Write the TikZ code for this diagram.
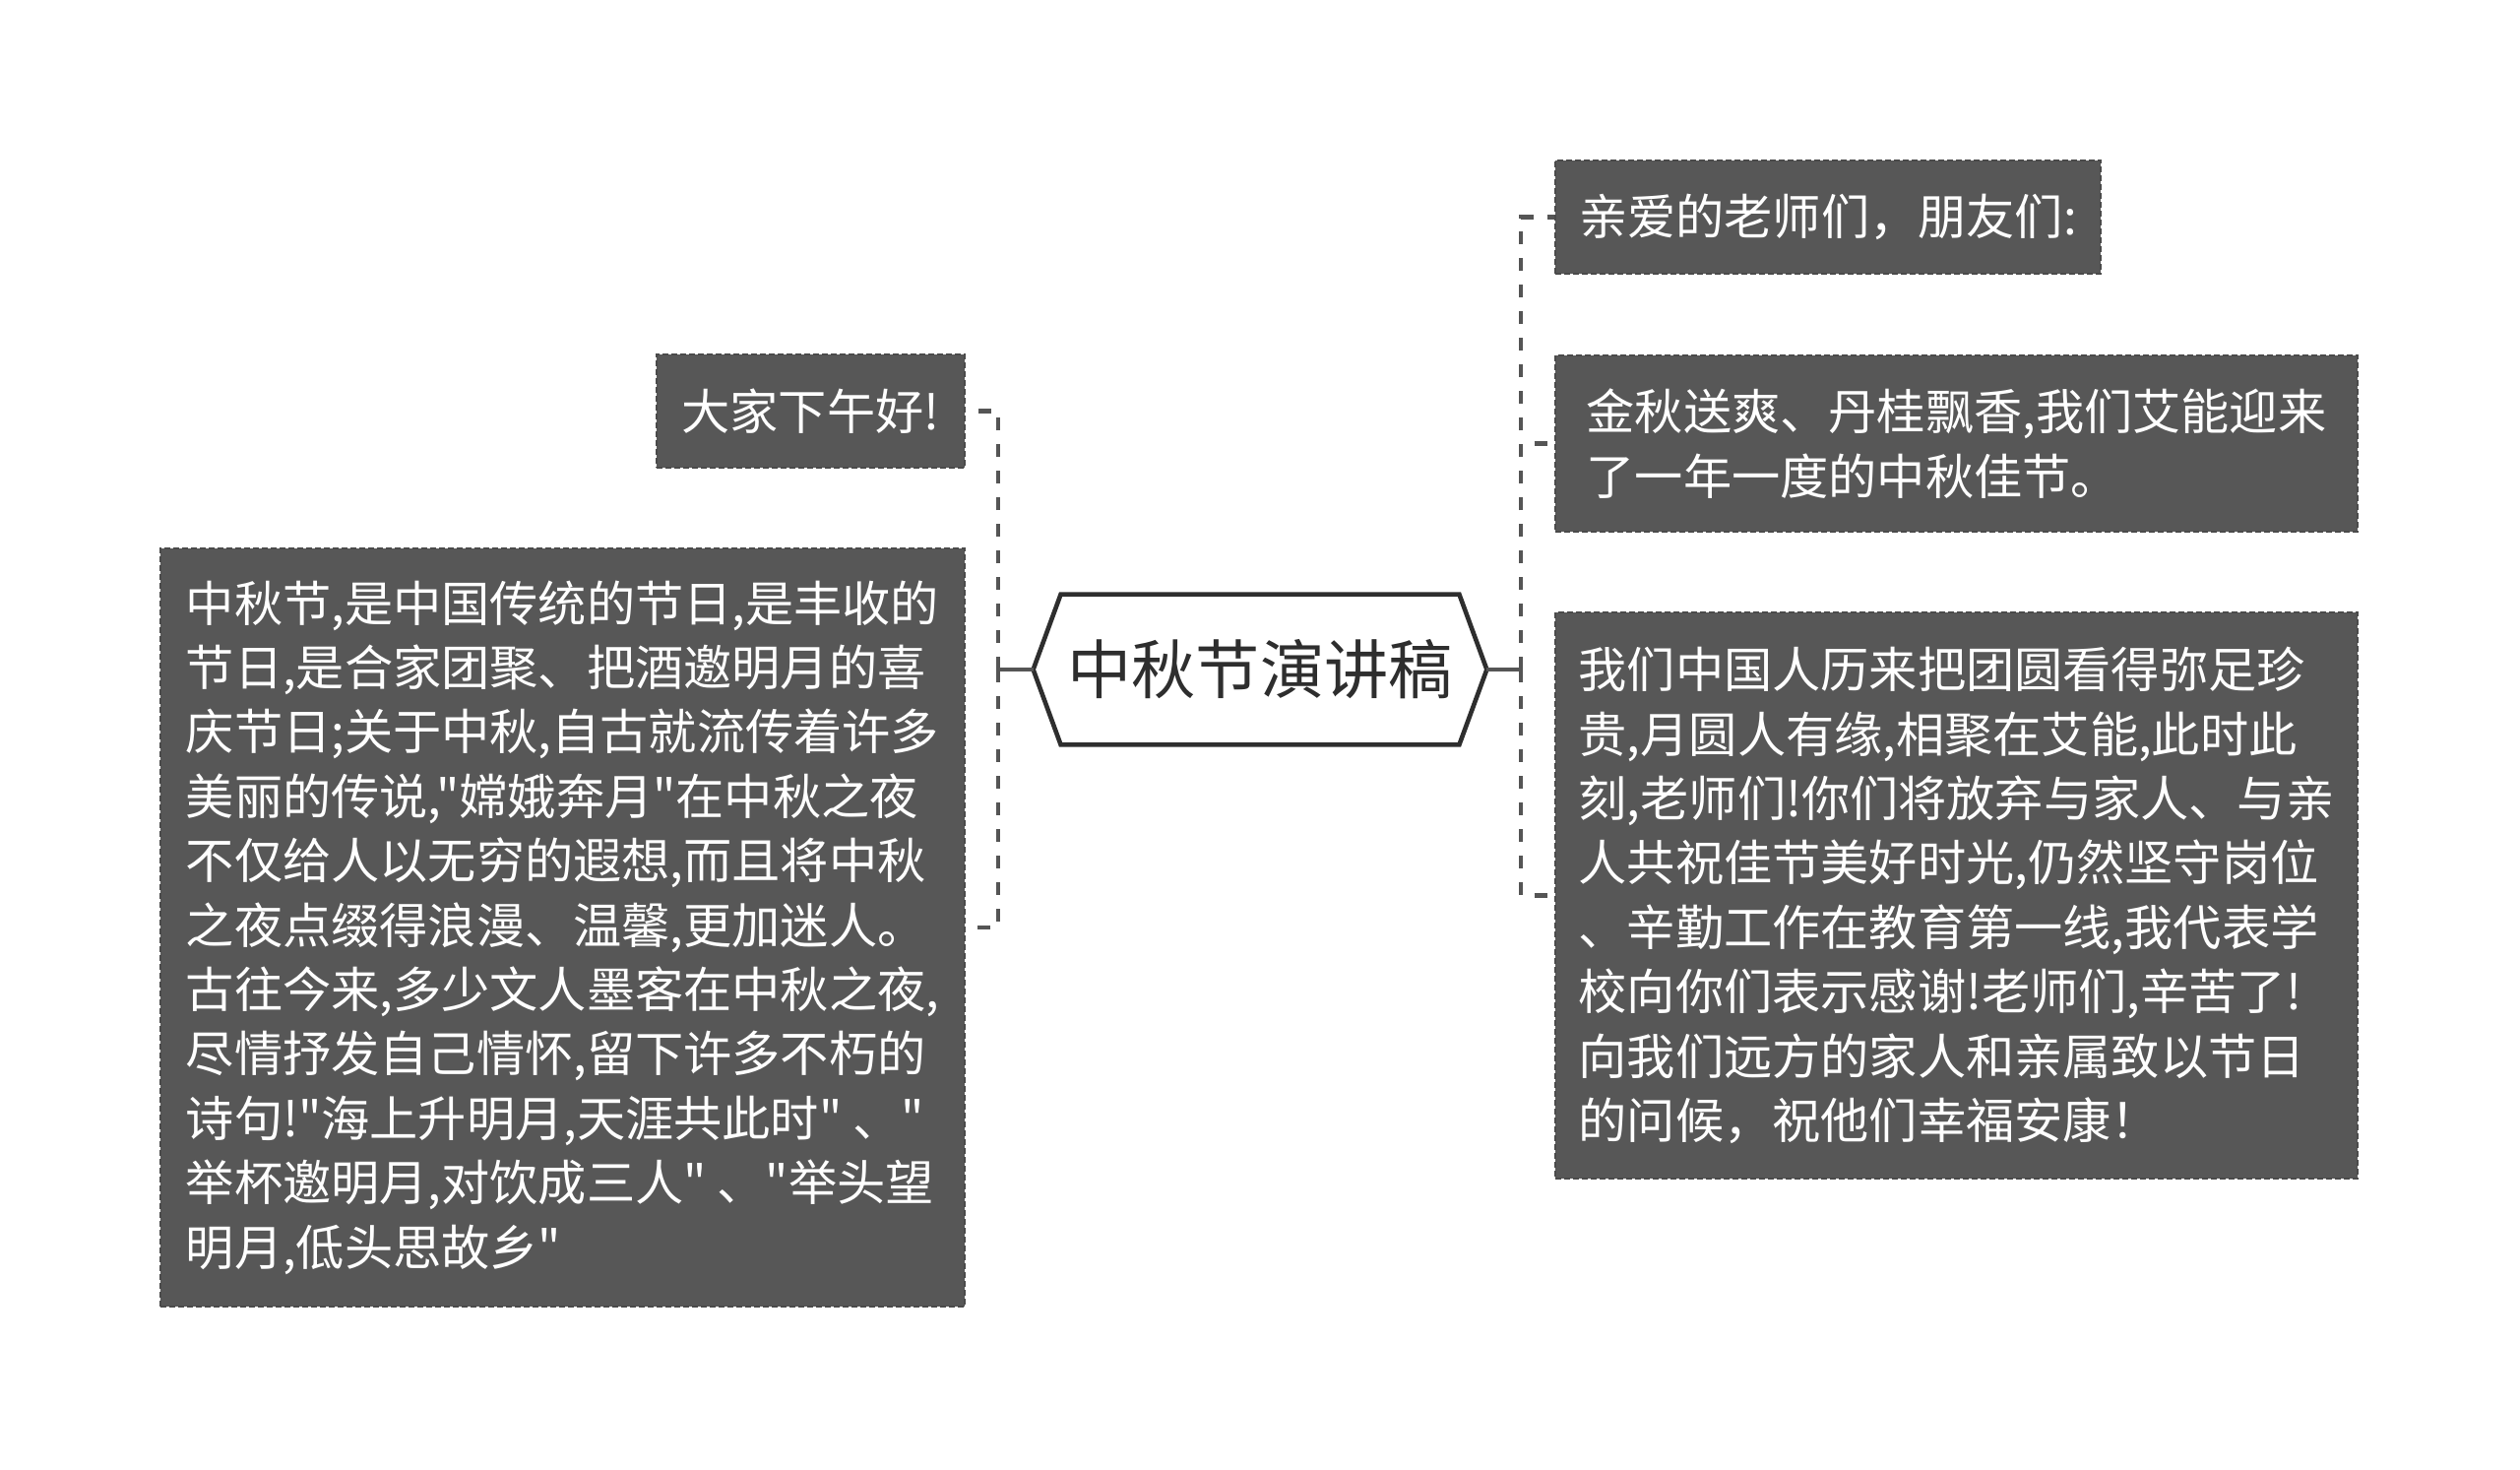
\documentclass[tikz,border=0pt]{standalone}
\usepackage{fontspec}
\newfontfamily\cjk{Noto Sans CJK SC}
\definecolor{boxfill}{HTML}{575757}
\definecolor{boxline}{HTML}{4A4A4A}
\definecolor{linecol}{HTML}{555555}
\definecolor{hexcol}{HTML}{2E2E2E}
\begin{document}
\begin{tikzpicture}[x=0.5pt,y=-0.5pt,
  leaf/.style={fill=boxfill, draw=boxline, line width=0.75pt,
    dash pattern=on 3pt off 1.5pt, inner sep=0pt, text=white, align=left,
    font={\cjk\fontsize{24.6pt}{32.7pt}\selectfont}},
  conn/.style={draw=linecol, line width=2.3pt, dash pattern=on 6.5pt off 7pt},
  stub/.style={draw=linecol, line width=2.3pt},
  hexbox/.style={inner sep=0pt, minimum width=230pt, minimum height=76pt,
    text=hexcol, font={\cjk\fontsize{32.6pt}{38pt}\selectfont}}]
\useasboundingbox (0,0) rectangle (2560,1493);
\fill[white] (0,0) rectangle (2560,1493);

% centre node
\node[hexbox] (c) at (1280,680) {中秋节演讲稿};
\draw[hexcol, line width=2.3pt, line join=miter]
  (c.west) -- ([xshift=14pt]c.north west) -- ([xshift=-14pt]c.north east)
  -- (c.east) -- ([xshift=-14pt]c.south east) -- ([xshift=14pt]c.south west) -- cycle;

% left leaves
\node[leaf, minimum width=156.5pt, minimum height=57.5pt] (n1) at (823.5,417.5) {大家下午好!};
\node[leaf, minimum width=408.5pt, minimum height=385pt] (n2) at (571.5,942) {中秋节,是中国传统的节日,是丰收的\\
节日,是合家团聚、把酒邀明月的喜\\
庆节日;关于中秋,自古就流传着许多\\
美丽的传说,"嫦娥奔月"在中秋之夜\\
不仅给人以无穷的遐想,而且将中秋\\
之夜点缀得浪漫、温馨,更加迷人。\\
古往今来,多少文人墨客在中秋之夜,\\
尽情抒发自己情怀,留下许多不朽的\\
诗句!"海上升明月,天涯共此时" 、"\\
举杯邀明月,对饮成三人" 、"举头望\\
明月,低头思故乡"};

% right leaves
\node[leaf, minimum width=277pt, minimum height=57.5pt] (r1) at (1857,220.5) {亲爱的老师们，朋友们:};
\node[leaf, minimum width=407.5pt, minimum height=89.5pt] (r2) at (1987.5,450.5) {金秋送爽、丹桂飘香,我们艾能迎来\\
了一年一度的中秋佳节。};
\node[leaf, minimum width=407.5pt, minimum height=287.5pt] (r3) at (1987.5,909.5) {我们中国人历来把团圆看得弥足珍\\
贵,月圆人有缘,相聚在艾能,此时此\\
刻,老师们!你们将放弃与家人、与亲\\
人共祝佳节美好时光,仍然坚守岗位\\
、辛勤工作在教育第一线,我代表学\\
校向你们表示感谢!老师们,辛苦了!\\
向我们远方的家人和亲属致以节日\\
的问候，祝他们幸福安康！};

% connectors
\coordinate (lj) at (1014,680);
\coordinate (rj) at (1545,680);
\draw[stub] (c.west) -- (lj);
\draw[stub] (c.east) -- (rj);
\draw[conn] (lj) |- (n1.east);
\draw[conn] (lj) |- (n2.east);
\draw[conn] (rj) |- (r1.west);
\draw[conn] (rj) |- (r2.west);
\draw[conn] (rj) |- (r3.west);
\end{tikzpicture}
\end{document}
